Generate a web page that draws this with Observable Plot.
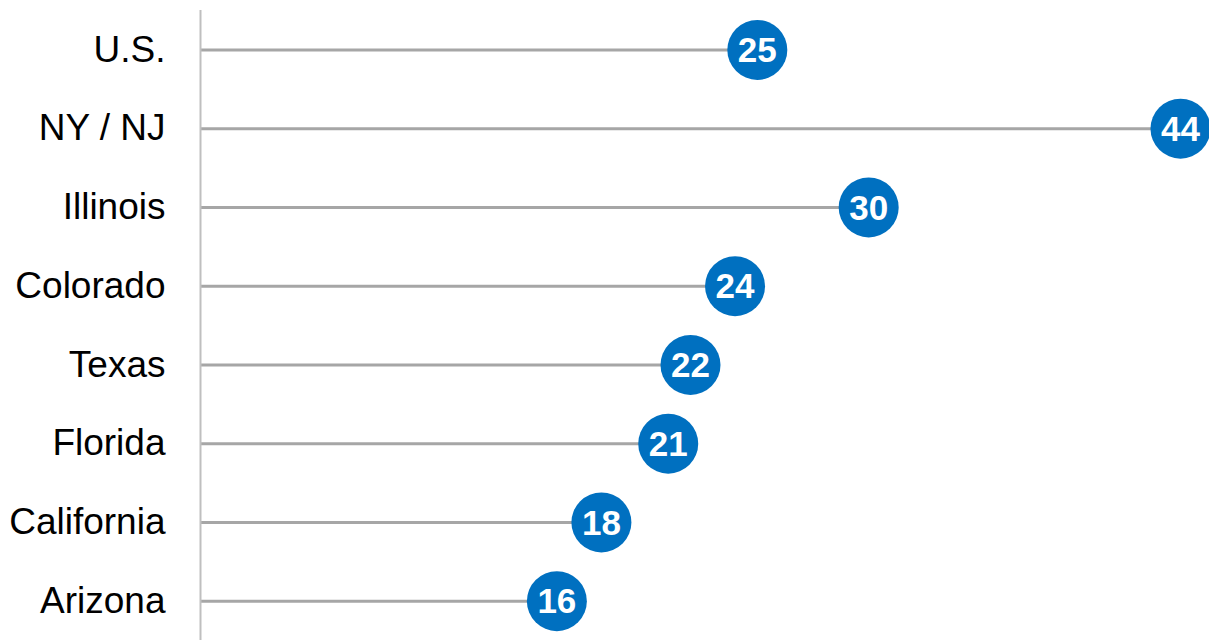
<!DOCTYPE html>
<html>
<head>
<meta charset="utf-8">
<script src="https://cdn.jsdelivr.net/npm/d3@7"></script>
<script src="https://cdn.jsdelivr.net/npm/@observablehq/plot@0.6"></script>
<style>
  html, body { margin: 0; padding: 0; background: #fff; }
  #chart svg { display: block; }
</style>
</head>
<body>
<div id="chart"></div>
<script>
const categories = ["U.S.", "NY / NJ", "Illinois", "Colorado", "Texas", "Florida", "California", "Arizona"];
const values = [25, 44, 30, 24, 22, 21, 18, 16];

const data = categories.map((c, i) => ({category: c, value: values[i]}));

const chart = Plot.plot({
  width: 1209,
  height: 642,
  marginLeft: 200,
  marginRight: 29,
  marginTop: 10,
  marginBottom: 2,
  style: {fontFamily: "'Liberation Sans', Arial, sans-serif", background: "#fff"},
  x: {domain: [0, 44], axis: null},
  y: {type: "band", domain: categories, padding: 0, round: false, label: null},
  marks: [
    Plot.axisY({tickSize: 0, tickPadding: 35, fontSize: 37, label: null, fill: "#000"}),
    Plot.ruleY(data, {y: "category", x1: 0, x2: "value", stroke: "#a6a6a6", strokeWidth: 3}),
    Plot.ruleX([0], {stroke: "#bfbfbf", strokeWidth: 2}),
    Plot.dot(data, {y: "category", x: "value", r: 30, fill: "#0070c0", stroke: "none"}),
    Plot.text(data, {y: "category", x: "value", text: d => String(d.value), fill: "#fff", fontSize: 35, fontWeight: "bold", dy: 1})
  ]
});
document.getElementById("chart").appendChild(chart);
</script>
</body>
</html>
